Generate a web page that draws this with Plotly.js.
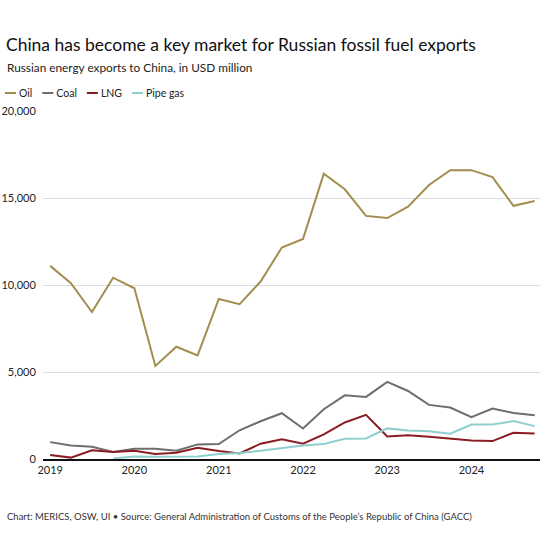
<!DOCTYPE html>
<html>
<head>
<meta charset="utf-8">
<script src="https://cdn.plot.ly/plotly-3.0.1.min.js"></script>
<style>
  html, body { margin: 0; padding: 0; background: #ffffff; }
  #chart { width: 540px; height: 540px; }
</style>
</head>
<body>
<div id="chart"></div>
<script>
// Quarterly observations (start of quarter)
var quarters = ['2019-01','2019-04','2019-07','2019-10',
                '2020-01','2020-04','2020-07','2020-10',
                '2021-01','2021-04','2021-07','2021-10',
                '2022-01','2022-04','2022-07','2022-10',
                '2023-01','2023-04','2023-07','2023-10',
                '2024-01','2024-04','2024-07','2024-10'];

// Russian energy exports to China, USD million
var oil = [11100, 10100, 8450, 10420, 9810, 5350, 6450, 5950,
           9200, 8900, 10200, 12150, 12650, 16400, 15500, 13970,
           13850, 14500, 15750, 16600, 16600, 16200, 14550, 14830];
var coal = [970, 780, 700, 400, 590, 590, 480, 840,
            860, 1650, 2170, 2630, 1750, 2860, 3660, 3570,
            4430, 3910, 3110, 2960, 2400, 2900, 2650, 2520];
var lng = [230, 80, 500, 400, 480, 290, 360, 650,
           460, 320, 880, 1130, 880, 1410, 2100, 2540,
           1300, 1360, 1280, 1180, 1070, 1030, 1510, 1470];
var pipeGas = [null, null, null, 30, 150, 130, 150, 150,
               290, 340, 480, 610, 780, 860, 1160, 1180,
               1760, 1640, 1600, 1450, 1980, 1980, 2180, 1890];

var seriesNames = ['Oil', 'Coal', 'LNG', 'Pipe gas'];
var seriesColors = ['#a38d4f', '#6e6e6e', '#8c1c24', '#8fcfcf'];
var seriesValues = [oil, coal, lng, pipeGas];

var yTickVals = [0, 5000, 10000, 15000, 20000];
var xTickVals = ['2019-01-01','2020-01-01','2021-01-01','2022-01-01','2023-01-01','2024-01-01'];
var xTickText = ['2019','2020','2021','2022','2023','2024'];

var FONT = 'Lato, "Open Sans", sans-serif';

var traces = seriesNames.map(function (name, i) {
  return {
    type: 'scatter',
    mode: 'lines',
    name: name,
    x: quarters,
    y: seriesValues[i],
    line: { color: seriesColors[i], width: 2 },
    connectgaps: false,
    hoverinfo: 'x+y+name'
  };
});

var layout = {
  width: 540,
  height: 540,
  paper_bgcolor: '#ffffff',
  plot_bgcolor: '#ffffff',
  font: { family: FONT, color: '#222222', size: 11 },
  margin: { l: 43, r: 0, t: 111, b: 81, pad: 0 },
  title: {
    text: 'China has become a key market for Russian fossil fuel exports',
    font: { family: FONT, size: 17.5, color: '#111111' },
    xref: 'container', yref: 'container',
    x: 0.011, xanchor: 'left',
    y: 1 - 45 / 540, yanchor: 'middle'
  },
  showlegend: true,
  legend: {
    orientation: 'h',
    xref: 'container', yref: 'container',
    x: 0.0, xanchor: 'left',
    y: 1 - 93 / 540, yanchor: 'middle',
    font: { family: FONT, size: 10.5, color: '#222222' },
    itemwidth: 30,
    tracegroupgap: 0,
    bgcolor: 'rgba(0,0,0,0)'
  },
  xaxis: {
    type: 'date',
    range: ['2018-12-01', '2024-10-24'],
    tickvals: xTickVals,
    ticktext: xTickText,
    showgrid: false,
    zeroline: false,
    showline: true,
    linecolor: '#111111',
    linewidth: 2,
    ticks: '',
    tickfont: { family: FONT, size: 11, color: '#222222' },
    fixedrange: true
  },
  yaxis: {
    range: [0, 20000],
    tickvals: yTickVals,
    tickformat: ',',
    showgrid: true,
    gridcolor: '#dddddd',
    gridwidth: 1,
    zeroline: false,
    showline: false,
    ticks: 'outside',
    ticklen: 4,
    tickcolor: 'rgba(0,0,0,0)',
    tickfont: { family: FONT, size: 11, color: '#222222' },
    fixedrange: true
  },
  annotations: [
    {
      text: 'Russian energy exports to China, in USD million',
      xref: 'paper', yref: 'paper',
      x: (5 - 43) / 497, xanchor: 'left',
      y: (459 - 68) / 348, yanchor: 'middle',
      showarrow: false,
      font: { family: FONT, size: 11.8, color: '#222222' }
    },
    {
      text: 'Chart: MERICS, OSW, UI \u2022 Source: General Administration of Customs of the People\u2019s Republic of China (GACC)',
      xref: 'paper', yref: 'paper',
      x: (5 - 43) / 497, xanchor: 'left',
      y: (459 - 516) / 348, yanchor: 'middle',
      showarrow: false,
      font: { family: FONT, size: 9.5, color: '#333333' }
    }
  ]
};

Plotly.newPlot('chart', traces, layout, { displayModeBar: false, staticPlot: true }).then(function (gd) {
  // Compact legend swatches to match the short line keys of the original
  var groups = gd.querySelectorAll('.legend .traces');
  var xPos = null;
  groups.forEach(function (g) {
    var m = /translate\(\s*([-\d.]+)[ ,]+([-\d.]+)\s*\)/.exec(g.getAttribute('transform') || '');
    var gx = m ? parseFloat(m[1]) : 0;
    var gy = m ? parseFloat(m[2]) : 0;
    if (xPos === null) xPos = gx;
    g.querySelectorAll('.legendlines path').forEach(function (p) { p.setAttribute('d', 'M5,0h11'); });
    var txt = g.querySelector('text.legendtext');
    var w = 0;
    if (txt) {
      txt.setAttribute('x', 19);
      txt.querySelectorAll('tspan').forEach(function (t) { if (t.getAttribute('x') !== null) t.setAttribute('x', 19); });
      w = txt.getComputedTextLength();
    }
    g.setAttribute('transform', 'translate(' + xPos + ',' + gy + ')');
    xPos += 19 + w + 10 - 5;
  });
});
</script>
</body>
</html>
